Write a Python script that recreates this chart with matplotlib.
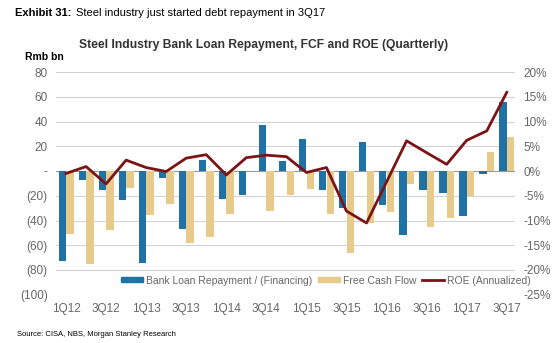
import matplotlib.pyplot as plt
import numpy as np
from matplotlib.lines import Line2D
from matplotlib.patches import Patch

quarters = ["1Q12", "2Q12", "3Q12", "4Q12", "1Q13", "2Q13", "3Q13", "4Q13",
            "1Q14", "2Q14", "3Q14", "4Q14", "1Q15", "2Q15", "3Q15", "4Q15",
            "1Q16", "2Q16", "3Q16", "4Q16", "1Q17", "2Q17", "3Q17"]
bank_loan = [-73, -7.6, -15, -23.8, -74, -6, -46.5, 8.6, -23, -19, 37.3, 8,
             25.7, -15.7, -29.7, 23.2, -27.6, -51.7, -15.7, -17.8, -36.5, -2.7, 56]
fcf = [-51, -75, -47.5, -14, -35.7, -26.5, -58, -53, -34.6, 0, -32.4, -19,
       -14.3, -35, -66.5, -42, -33, -10.3, -45, -37.8, -20.5, 15.4, 27.6]
roe = [-0.5, 0.9, -2.6, 2.2, 0.7, -0.1, 2.6, 3.3, -0.8, 2.7, 3.2, 2.9,
       -0.3, 0.7, -8.1, -10.5, -2.2, 6.1, 3.7, 1.35, 6.2, 8.1, 15.9]

left_ticks = [80, 60, 40, 20, 0, -20, -40, -60, -80, -100]
left_labels = ["80", "60", "40", "20", "-", "(20)", "(40)", "(60)", "(80)", "(100)"]
right_ticks = [20, 15, 10, 5, 0, -5, -10, -15, -20, -25]

BLUE = "#1f72a3"
TAN = "#e6cb8c"
RED = "#7a1416"
GREY = "#666666"

plt.rcParams["font.family"] = ["Liberation Sans", "DejaVu Sans"]

fig = plt.figure(figsize=(5.6, 3.43), dpi=100)
ax = fig.add_axes([0.1, 0.1407, 0.82, 0.6493])
x = np.arange(len(quarters))
w = 0.37

ax.set_ylim(-100, 80)
ax.set_xlim(-0.5, 22.42)
for t in left_ticks:
    ax.axhline(t, color="#999999" if t == 0 else "#d3d3d3", lw=0.8, zorder=0)
ax.bar(x - 0.19, bank_loan, w, color=BLUE, zorder=2)
ax.bar(x + 0.19, fcf, w, color=TAN, zorder=2)

ax.set_yticks(left_ticks)
ax.set_yticklabels(left_labels)
ax.set_xticks(x[::2])
ax.set_xticklabels(quarters[::2])
ax.tick_params(length=0, labelsize=8.5, labelcolor=GREY, pad=6)
for s in ax.spines.values():
    s.set_visible(False)

ax2 = ax.twinx()
ax2.set_ylim(-25, 20)
ax2.plot(x, roe, color=RED, lw=2, zorder=3)
ax2.set_yticks(right_ticks)
ax2.set_yticklabels([f"{t}%" for t in right_ticks])
ax2.tick_params(length=0, labelsize=8.5, labelcolor=GREY, pad=6)
for s in ax2.spines.values():
    s.set_visible(False)

handles = [Patch(color=BLUE), Patch(color=TAN), Line2D([], [], color=RED, lw=2)]
labels = ["Bank Loan Repayment / (Financing)", "Free Cash Flow", "ROE (Annualized)"]
fig.legend(handles, labels, loc="center", bbox_to_anchor=(0.582, 0.182), ncol=3,
           frameon=False, fontsize=7.5, labelcolor=GREY, handlelength=2.1,
           handleheight=0.4, handletextpad=0.3, columnspacing=0.5,
           borderpad=0, borderaxespad=0)

fig.text(0.027, 0.962, "Exhibit 31:", fontsize=8, fontweight="bold", va="center")
fig.text(0.136, 0.962, "Steel industry just started debt repayment in 3Q17", fontsize=8, va="center")
fig.text(0.4705, 0.868, "Steel Industry Bank Loan Repayment, FCF and ROE (Quartterly)",
         fontsize=8.7, fontweight="bold", color="#333333", ha="center", va="center")
fig.text(0.045, 0.834, "Rmb bn", fontsize=7.5, fontweight="bold", va="center")
fig.text(0.03, 0.026, "Source: CISA, NBS, Morgan Stanley Research", fontsize=5.5, va="center")

fig.savefig("out.png")
